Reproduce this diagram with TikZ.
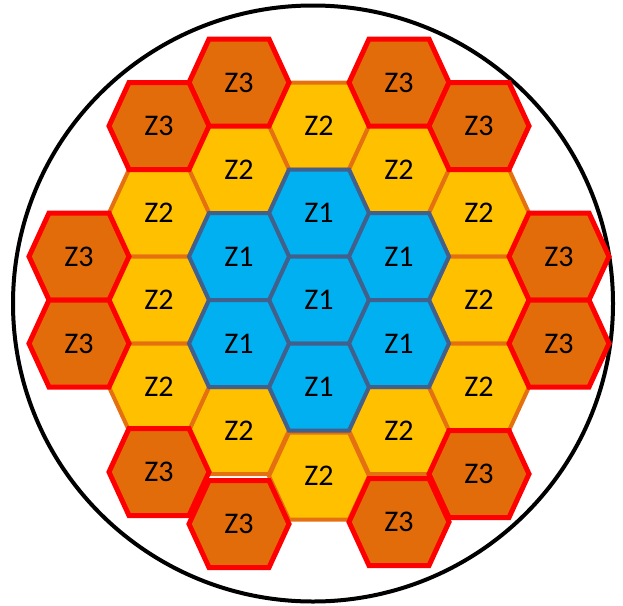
\documentclass[tikz,border=0pt]{standalone}
\usepackage{fontspec}
\setmainfont{Carlito}
\definecolor{zoneonefill}{RGB}{0,176,240}
\definecolor{zoneoneline}{RGB}{66,96,140}
\definecolor{zonetwofill}{RGB}{255,192,0}
\definecolor{zonetwoline}{RGB}{228,112,16}
\definecolor{zonethreefill}{RGB}{226,108,10}
\definecolor{zonethreeline}{RGB}{255,0,0}
\begin{document}
\begin{tikzpicture}[x=1pt,y=-1pt,
  hexlabel/.style={font=\fontsize{30}{30}\selectfont, inner sep=0pt, text=black},
  zoneone/.style={fill=zoneonefill, draw=zoneoneline, line width=4pt},
  zonetwo/.style={fill=zonetwofill, draw=zonetwoline, line width=4pt},
  zonethree/.style={fill=zonethreefill, draw=zonethreeline, line width=5pt},
  border/.style={draw=black, line width=4pt}]
\useasboundingbox (0,0) rectangle (623,605);
\path[border] (313,303.5) ellipse [x radius=300, y radius=298];
% Zone 2
\foreach \i/\y [count=\n] in {0/126,0/476,-1/169.5,1/169.5,-1/430.5,1/430.5,-2/213,-2/300,-2/387,2/213,2/300,2/387}{
  \path[zonetwo] ({319+80*\i-50},\y) -- ++(20,-43.5) -- ++(60,0) -- ++(20,43.5) -- ++(-20,43.5) -- ++(-60,0) -- cycle;
  \node[hexlabel] (ztwo\n) at ({319+80*\i},\y) {Z2};
}
% Zone 1
\foreach \i/\y [count=\n] in {0/213,0/300,0/387,-1/256.5,-1/343.5,1/256.5,1/343.5}{
  \path[zoneone] ({319+80*\i-50},\y) -- ++(20,-43.5) -- ++(60,0) -- ++(20,43.5) -- ++(-20,43.5) -- ++(-60,0) -- cycle;
  \node[hexlabel] (zone\n) at ({319+80*\i},\y) {Z1};
}
% Zone 3
\foreach \i/\y [count=\n] in {-1/82.5,1/82.5,-1/524,1/522,-2/126,2/126,-2/472,2/474,-3/256.5,-3/343.5,3/256.5,3/343.5}{
  \path[zonethree] ({319+80*\i-50},\y) -- ++(20,-43.5) -- ++(60,0) -- ++(20,43.5) -- ++(-20,43.5) -- ++(-60,0) -- cycle;
  \node[hexlabel] (zthree\n) at ({319+80*\i},\y) {Z3};
}
\end{tikzpicture}
\end{document}
